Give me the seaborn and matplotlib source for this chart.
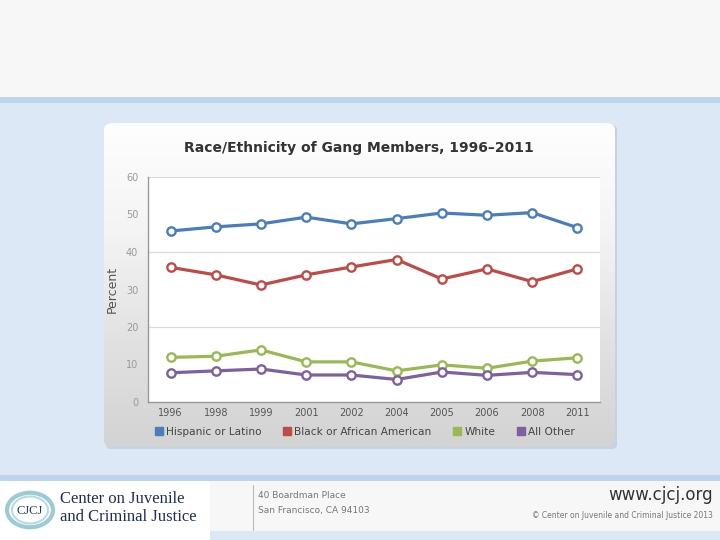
import numpy as np
import pandas as pd
import matplotlib
matplotlib.use("Agg")
import matplotlib.pyplot as plt
import seaborn as sns
from matplotlib.patches import Rectangle, FancyBboxPatch, Circle
from matplotlib.lines import Line2D

# ---------------- data ----------------
years = ["1996", "1998", "1999", "2001", "2002", "2004", "2005", "2006", "2008", "2011"]
series_names = ["Hispanic or Latino", "Black or African American", "White", "All Other"]
hispanic = [45.6, 46.7, 47.5, 49.3, 47.5, 48.9, 50.4, 49.8, 50.5, 46.5]
black = [35.9, 33.9, 31.2, 33.9, 36.0, 38.0, 32.8, 35.5, 32.1, 35.5]
white = [11.9, 12.2, 13.9, 10.7, 10.7, 8.3, 9.9, 9.0, 10.9, 11.8]
other = [7.8, 8.3, 8.8, 7.2, 7.2, 6.0, 8.0, 7.1, 7.9, 7.3]
y_ticks = [0, 10, 20, 30, 40, 50, 60]
colors = ["#4a7ebb", "#be4b48", "#98b954", "#7d60a0"]

rows = []
for name, vals in zip(series_names, [hispanic, black, white, other]):
    for i, (yr, v) in enumerate(zip(years, vals)):
        rows.append({"pos": i, "year": yr, "Percent": v, "group": name})
df = pd.DataFrame(rows)

# ---------------- figure ----------------
sns.set_theme(style="white")
plt.rcParams['font.family'] = ['DejaVu Sans']
W, H = 720, 540
fig = plt.figure(figsize=(7.2, 5.4), dpi=100)
fig.patch.set_facecolor("#f7f7f7")

def fx(x):
    return x / W

def fy(y):
    return 1 - y / H

def rect(x0, y0, x1, y1, color, z=0):
    fig.add_artist(Rectangle((fx(x0), fy(y1)), fx(x1) - fx(x0), fy(y0) - fy(y1),
                             transform=fig.transFigure, facecolor=color,
                             edgecolor="none", zorder=z))

# slide background bands
rect(0, 97, 720, 103, "#bdd5ec")
rect(0, 103, 720, 475, "#dce8f5")
rect(0, 475, 720, 481, "#bdd5ec")
rect(0, 481, 210, 540, "#ffffff")
rect(210, 531, 720, 540, "#dce8f5")

# chart panel with gradient
px0, py0, px1, py1 = 104, 123, 615, 447
shadow = FancyBboxPatch((fx(px0 + 2), fy(py1 + 2)), fx(px1 - px0), (py1 - py0) / H,
                        boxstyle="round,pad=0,rounding_size=0.008",
                        transform=fig.transFigure, facecolor="#c5d3e0",
                        edgecolor="none", zorder=0.5)
fig.add_artist(shadow)
pax = fig.add_axes([fx(px0), fy(py1), fx(px1) - fx(px0), (py1 - py0) / H], zorder=0.6)
grad = np.linspace(0, 1, 256).reshape(-1, 1)
cmap = matplotlib.colors.LinearSegmentedColormap.from_list(
    "g", ["#fefefe", "#f4f4f4", "#e2e2e2", "#d3d3d3"])
im = pax.imshow(grad, aspect="auto", cmap=cmap, extent=[0, 1, 0, 1], origin="upper")
clip = FancyBboxPatch((0, 0), 1, 1, boxstyle="round,pad=0,rounding_size=0.02",
                      transform=pax.transAxes, facecolor="none", edgecolor="none")
pax.add_patch(clip)
im.set_clip_path(clip)
pax.set_axis_off()

# plot area
ax = fig.add_axes([fx(148), fy(402), fx(600) - fx(148), (402 - 177) / H], zorder=1)
ax.set_facecolor("white")
for yv in [20, 40, 60]:
    ax.axhline(yv, color="#d9d9d9", lw=0.9, zorder=0)

sns.lineplot(data=df, x="pos", y="Percent", hue="group", hue_order=series_names,
             palette=colors, ax=ax, linewidth=2.3, marker="o", markersize=6,
             markerfacecolor="white", markeredgewidth=1.7, legend=False, zorder=3)
for line, c in zip(ax.get_lines()[-4:], colors):
    line.set_markeredgecolor(c)

ax.set_xlim(-0.5, len(years) - 0.5)
ax.set_ylim(0, 60)
ax.set_xticks(range(len(years)))
ax.set_xticklabels(years, fontsize=7, color="#555555")
ax.set_yticks(y_ticks)
ax.set_yticklabels([str(t) for t in y_ticks], fontsize=7, color="#999999")
ax.tick_params(axis="x", length=0, pad=4)
ax.tick_params(axis="y", length=0, pad=7)
ax.set_xlabel("")
ax.set_ylabel("Percent", fontsize=9, color="#555555", labelpad=5)
for s in ["top", "right"]:
    ax.spines[s].set_visible(False)
ax.spines["left"].set_color("#999999")
ax.spines["bottom"].set_color("#999999")
ax.spines["left"].set_linewidth(1)
ax.spines["bottom"].set_linewidth(1)

# title
fig.text(fx(359), fy(148), "Race/Ethnicity of Gang Members, 1996\u20132011",
         ha="center", va="center", fontsize=10, fontweight="bold", color="#333333", zorder=5)

# legend
handles = [Line2D([], [], marker="s", linestyle="", color=c, markersize=5.5) for c in colors]
fig.legend(handles, series_names, loc="center", bbox_to_anchor=(fx(364), fy(432)),
           ncol=4, frameon=False, fontsize=7.6, handletextpad=0.2, columnspacing=1.9,
           labelcolor="#444444", handlelength=1.0)

# footer
logo = Circle((fx(30), fy(510)), 23 / W, transform=fig.transFigure,
              facecolor="none", edgecolor="#9ccad5", lw=3, zorder=5)
fig.add_artist(logo)
logo2 = Circle((fx(30), fy(510)), 18 / W, transform=fig.transFigure,
               facecolor="none", edgecolor="#b9dbe2", lw=1.5, zorder=5)
fig.add_artist(logo2)
fig.text(fx(30), fy(511), "CJCJ", ha="center", va="center", fontsize=9,
         family="Liberation Serif", color="#2a3a5a", zorder=6)
fig.text(fx(60), fy(499), "Center on Juvenile", ha="left", va="center", fontsize=12,
         family="Liberation Serif", color="#1f2f55")
fig.text(fx(60), fy(517), "and Criminal Justice", ha="left", va="center", fontsize=12,
         family="Liberation Serif", color="#1f2f55")
fig.add_artist(Line2D([fx(253), fx(253)], [fy(485), fy(530)], transform=fig.transFigure,
                      color="#bbbbbb", lw=0.8))
fig.text(fx(258), fy(495), "40 Boardman Place", ha="left", va="center", fontsize=6.5,
         color="#777777")
fig.text(fx(258), fy(510), "San Francisco, CA 94103", ha="left", va="center", fontsize=6.5,
         color="#777777")
fig.text(fx(713), fy(495), "www.cjcj.org", ha="right", va="center", fontsize=12,
         color="#333333")
fig.text(fx(713), fy(516), "\u00a9 Center on Juvenile and Criminal Justice 2013",
         ha="right", va="center", fontsize=5.5, color="#777777")

fig.savefig("out.png", dpi=100, facecolor=fig.get_facecolor())
